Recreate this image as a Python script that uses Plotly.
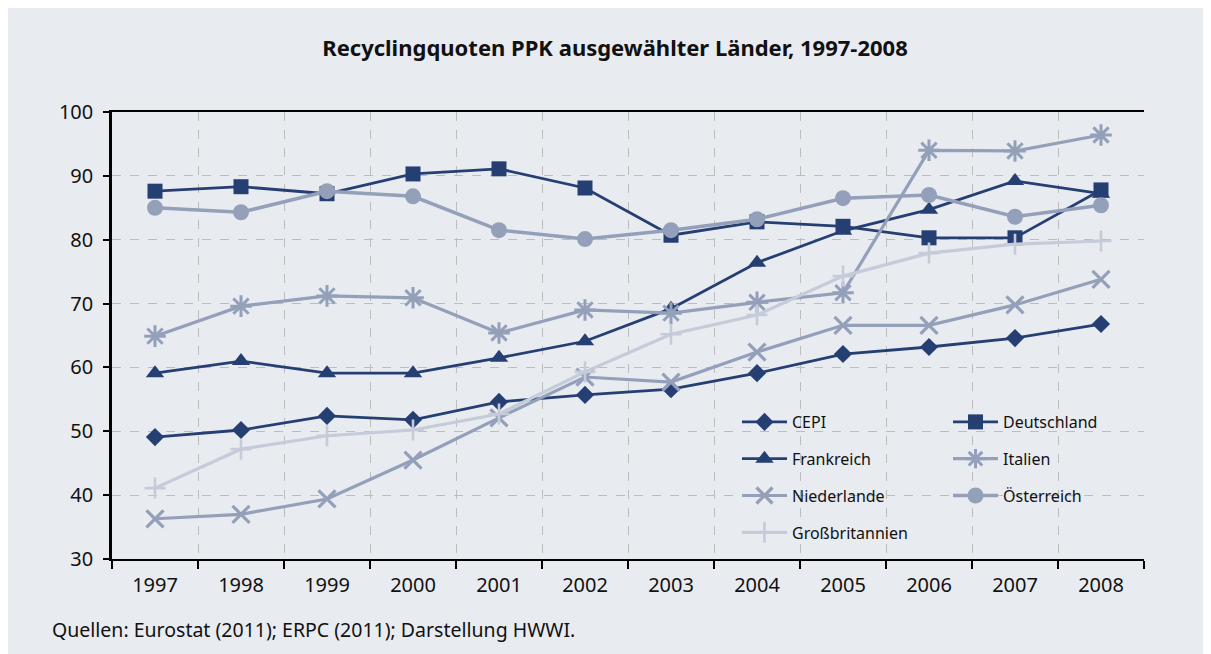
import plotly.graph_objects as go

years = ["1997", "1998", "1999", "2000", "2001", "2002", "2003", "2004", "2005", "2006", "2007", "2008"]

cepi = [49.1, 50.2, 52.4, 51.8, 54.6, 55.7, 56.6, 59.1, 62.1, 63.2, 64.6, 66.8]
deutschland = [87.6, 88.3, 87.2, 90.3, 91.1, 88.1, 80.7, 82.8, 82.1, 80.3, 80.3, 87.8]
frankreich = [59.1, 61.0, 59.1, 59.1, 61.5, 64.1, 69.2, 76.4, 81.4, 84.7, 89.2, 87.2]
italien = [64.9, 69.6, 71.2, 70.9, 65.4, 69.0, 68.5, 70.2, 71.7, 94.0, 93.9, 96.4]
niederlande = [36.3, 37.0, 39.4, 45.5, 52.1, 58.5, 57.7, 62.4, 66.6, 66.6, 69.8, 73.8]
oesterreich = [85.0, 84.3, 87.6, 86.8, 81.5, 80.1, 81.5, 83.2, 86.5, 87.0, 83.6, 85.4]
grossbritannien = [41.1, 47.2, 49.3, 50.2, 52.7, 59.3, 65.2, 68.2, 74.3, 77.9, 79.3, 79.8]

NAVY = "#263F73"
MID = "#94A0B9"
LIGHT = "#C5CBD9"
BG = "#E8EBF0"

series = [
    ("CEPI", cepi, NAVY, 2.8, dict(symbol="diamond", size=14, color=NAVY), "legend"),
    ("Deutschland", deutschland, NAVY, 2.8, dict(symbol="square", size=15, color=NAVY), "legend2"),
    ("Frankreich", frankreich, NAVY, 2.8, dict(symbol="triangle-up", size=16, color=NAVY), "legend"),
    ("Italien", italien, MID, 3.2, dict(symbol="asterisk-open", size=18, color=MID, line=dict(color=MID, width=3)), "legend2"),
    ("Niederlande", niederlande, MID, 3.2, dict(symbol="x-thin-open", size=17, color=MID, line=dict(color=MID, width=3.2)), "legend"),
    ("Österreich", oesterreich, MID, 3.5, dict(symbol="circle", size=16, color=MID), "legend2"),
    ("Großbritannien", grossbritannien, LIGHT, 3.2, dict(symbol="cross-thin-open", size=15, color=LIGHT, line=dict(color=LIGHT, width=2.6)), "legend"),
]

fig = go.Figure()
for name, vals, col, lw, mk, lg in series:
    fig.add_trace(go.Scatter(
        x=years, y=vals, name=name, mode="lines+markers",
        line=dict(color=col, width=lw), marker=mk,
        legend=lg, legendgroup=name,
    ))

# The page body adds an 8px offset; positions below are screenshot pixels.
OFF = 8
W, H = 1211, 654
ml, mt = 112 - OFF, 112 - OFF
pw, ph = 1032, 447
mr = W - ml - pw
mb = H - mt - ph

def px_x(x):
    return (x - OFF - ml) / pw

def px_y(y):
    return 1 - (y - OFF - mt) / ph

legend_common = dict(
    bgcolor="rgba(0,0,0,0)", borderwidth=0,
    font=dict(family="Noto Sans", size=16, color="#111111"),
    itemwidth=45, traceorder="grouped", tracegroupgap=13,
    orientation="v", xanchor="left", yanchor="top", itemclick=False,
)

fig.update_layout(
    width=W, height=H,
    margin=dict(l=ml, r=mr, t=mt, b=mb),
    paper_bgcolor=BG, plot_bgcolor=BG,
    font=dict(family="Noto Sans", color="#111111"),
    title=dict(
        text="<b>Recyclingquoten PPK ausgewählter Länder, 1997-2008</b>",
        font=dict(family="Noto Sans", size=22, color="#111111"),
        x=(615 - OFF) / W, xanchor="center", xref="container",
        y=1 - (48 - OFF) / H, yanchor="middle", yref="container",
    ),
    legend=dict(x=px_x(737), y=px_y(405), **legend_common),
    legend2=dict(x=px_x(948), y=px_y(405), **legend_common),
    xaxis=dict(
        type="category", range=[-0.5, 11.5],
        showline=True, linecolor="#000000", linewidth=2, mirror=True,
        ticks="outside", ticklen=8, tickwidth=1.5, tickcolor="#000000",
        tickson="boundaries", ticklabelstandoff=7,
        showgrid=True, gridcolor="#BDBDBD", gridwidth=1, griddash="dash",
        tickfont=dict(family="Noto Sans", size=20, color="#111111"),
    ),
    yaxis=dict(
        range=[30, 100], dtick=10, tick0=30,
        showline=True, linecolor="#000000", linewidth=2.5,
        ticks="outside", ticklen=6, tickwidth=1.5, tickcolor="#000000",
        ticklabelstandoff=6,
        showgrid=True, gridcolor="#BDBDBD", gridwidth=1, griddash="dash",
        zeroline=False,
        tickfont=dict(family="Noto Sans", size=20, color="#111111"),
    ),
    annotations=[
        dict(text="Quellen: Eurostat (2011); ERPC (2011); Darstellung HWWI.",
             xref="paper", yref="paper", x=px_x(50), y=px_y(629),
             xanchor="left", yanchor="middle", showarrow=False,
             font=dict(family="Noto Sans", size=19.5, color="#111111")),
    ],
    showlegend=True,
)

fig.write_html("out.html")
